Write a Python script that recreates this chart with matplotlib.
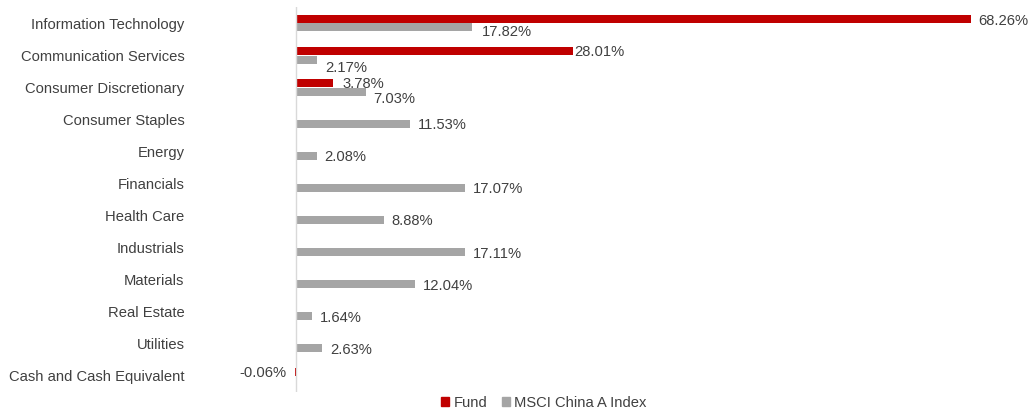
import matplotlib
matplotlib.use('Agg')
import matplotlib.pyplot as plt
from matplotlib.patches import Patch
from matplotlib.transforms import offset_copy
import numpy as np

categories = ['Information Technology', 'Communication Services', 'Consumer Discretionary',
              'Consumer Staples', 'Energy', 'Financials', 'Health Care', 'Industrials',
              'Materials', 'Real Estate', 'Utilities', 'Cash and Cash Equivalent']
fund = [68.26, 28.01, 3.78, None, None, None, None, None, None, None, None, -0.06]
index = [17.82, 2.17, 7.03, 11.53, 2.08, 17.07, 8.88, 17.11, 12.04, 1.64, 2.63, None]

RED = '#C00000'
GRAY = '#A5A5A5'
TXT = '#404040'
FS = 10.6

# label nudges in pixels (dx, dy down), roughly how excel placed them
fund_off = {0: (7, 2.5), 1: (1, 1.5), 2: (9, 1.5), 11: (-9, 1)}
index_off = {0: (10, 5), 1: (8, 8), 2: (8, 7)}

plt.rcParams['font.family'] = ['Liberation Sans', 'DejaVu Sans']
fig = plt.figure(figsize=(10.3, 4.09), dpi=100)
ax = fig.add_axes([190 / 1030, 1 - 392 / 409, (990 - 190) / 1030, 385 / 409])

scale = 9.89  # px per percent
ax.set_xlim(-(296 - 190) / scale, (990 - 296) / scale)
ax.set_ylim(len(categories) - 0.5, -0.5)

y = np.arange(len(categories))
h = 0.25
off = 0.138
px = 72 / fig.dpi

for i, v in enumerate(fund):
    if v is None:
        continue
    ax.barh(y[i] - off, v, height=h, color=RED)
    dx, dy = fund_off.get(i, (8, 1.5))
    tr = offset_copy(ax.transData, fig=fig, x=dx * px, y=-dy * px, units='points')
    ax.text(v, y[i] - off, f'{v:.2f}%', transform=tr, va='center',
            ha='right' if v < 0 else 'left', fontsize=FS, color=TXT)

for i, v in enumerate(index):
    if v is None:
        continue
    ax.barh(y[i] + off, v, height=h, color=GRAY)
    dx, dy = index_off.get(i, (8, 1.5))
    tr = offset_copy(ax.transData, fig=fig, x=dx * px, y=-dy * px, units='points')
    ax.text(v, y[i] + off, f'{v:.2f}%', transform=tr, va='center',
            ha='left', fontsize=FS, color=TXT)

ax.axvline(0, color='#D9D9D9', linewidth=1)
ax.set_yticks(y)
ax.set_yticklabels(categories, fontsize=FS, color=TXT)
for t in ax.get_yticklabels():
    t.set_y(t.get_position()[1])
ax.tick_params(axis='y', length=0, pad=4)
ax.set_xticks([])
for s in ax.spines.values():
    s.set_visible(False)

handles = [Patch(color=RED, label='Fund'), Patch(color=GRAY, label='MSCI China A Index')]
leg = fig.legend(handles=handles, loc='center', bbox_to_anchor=(0.528, 0.015), ncol=2,
                 frameon=False, fontsize=FS, handlelength=0.55, handleheight=0.55,
                 handletextpad=0.3, columnspacing=1.0, borderaxespad=0)
for t in leg.get_texts():
    t.set_color(TXT)

fig.savefig('out.png', dpi=100)
